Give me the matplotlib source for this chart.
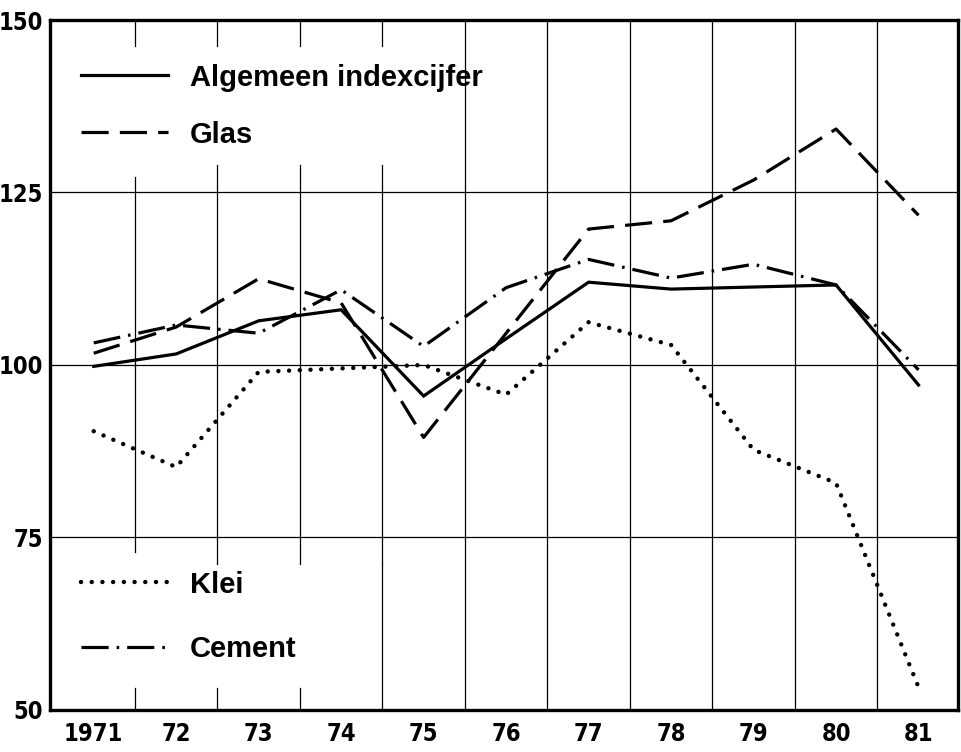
import matplotlib.pyplot as plt
from matplotlib import font_manager

# Datos
jaren = [1971, 1972, 1973, 1974, 1975, 1976, 1977, 1978, 1979, 1980, 1981]
jaar_labels = ['1971', '72', '73', '74', '75', '76', '77', '78', '79', '80', '81']
algemeen = [99.8, 101.6, 106.4, 108.0, 95.5, 103.8, 112.0, 111.0, 111.3, 111.6, 97.1]
glas = [101.7, 105.5, 112.5, 109.0, 89.5, 104.6, 119.7, 120.9, 126.8, 134.2, 121.7]
klei = [90.4, 85.2, 99.0, 99.5, 100.0, 95.7, 106.2, 102.9, 87.7, 82.9, 53.3]
cement = [103.2, 105.8, 104.6, 110.9, 102.7, 111.2, 115.3, 112.6, 114.6, 111.6, 99.3]
y_ticks = [50, 75, 100, 125, 150]

# Busco una fuente estrecha y negrita para los numeros de los ejes
fuente_ejes = None
for f in font_manager.fontManager.ttflist:
    estrecha = ('Narrow' in f.name or 'Condensed' in f.name or 'condensed' in str(f.stretch))
    negrita = f.weight in ('bold', 700) or 'Bold' in f.fname
    if estrecha and negrita and 'Oblique' not in f.fname and 'Italic' not in f.fname:
        fuente_ejes = font_manager.FontProperties(fname=f.fname, size=17)
        break
if fuente_ejes is None:
    fuente_ejes = font_manager.FontProperties(family='DejaVu Sans', weight='bold', size=13)

nombres = {f.name for f in font_manager.fontManager.ttflist}
fuente_texto = 'Liberation Sans' if 'Liberation Sans' in nombres else 'DejaVu Sans'

fig = plt.figure(figsize=(9.61, 7.52), dpi=100)
ax = fig.add_axes([0.052, 0.0559, 0.945, 0.9175])
ax.set_xlim(1970.47, 1981.48)
ax.set_ylim(50, 150)

# Rejilla horizontal
for y in [75, 100, 125]:
    ax.axhline(y, color='black', lw=0.9, zorder=1)

# Rejilla vertical (con huecos detras de las leyendas)
for i in range(4):
    x = jaren[i] + 0.5
    ax.plot([x, x], [146.3, 150], color='black', lw=0.9, zorder=1)
    ax.plot([x, x], [129 if i else 127.3, 71.2 if i else 72.9], color='black', lw=0.9, zorder=1)
    if i < 3:
        ax.plot([x, x], [50, 53.2], color='black', lw=0.9, zorder=1)
ax.plot([1974.5, 1974.5], [71.2, 50], color='black', lw=0.9, zorder=1)
for x in jaren[4:10]:
    ax.axvline(x + 0.5, color='black', lw=0.9, zorder=1)

# Series
l1, = ax.plot(jaren, algemeen, color='black', lw=2.3, solid_joinstyle='miter',
              label='Algemeen indexcijfer', zorder=3)
l2, = ax.plot(jaren, glas, color='black', lw=2.3, dashes=(8.5, 3.5),
              label='Glas', zorder=3)
l3, = ax.plot(jaren, klei, color='black', lw=3.2, dashes=(0.01, 2.4),
              dash_capstyle='round', label='Klei', zorder=3)
l4, = ax.plot(jaren, cement, color='black', lw=2.3, dashes=(8.5, 2.5, 0.8, 2.5),
              label='Cement', zorder=3)

# Leyendas
props = {'family': fuente_texto, 'weight': 'bold', 'size': 21}
leg1 = ax.legend(handles=[l1, l2], loc='upper left', bbox_to_anchor=(0.005, 0.975),
                 frameon=False, prop=props, handlelength=3.0, handletextpad=0.75,
                 labelspacing=1.0)
ax.add_artist(leg1)
ax.legend(handles=[l3, l4], loc='lower left', bbox_to_anchor=(0.005, 0.03),
          frameon=False, prop=props, handlelength=3.0, handletextpad=0.75,
          labelspacing=1.25)

# Ejes
ax.set_xticks(jaren)
ax.set_xticklabels(jaar_labels)
ax.set_yticks(y_ticks)
ax.set_yticklabels([str(v) for v in y_ticks])
ax.tick_params(axis='x', length=0, pad=9)
ax.tick_params(axis='y', length=0, pad=5)
for lab in ax.get_xticklabels() + ax.get_yticklabels():
    lab.set_fontproperties(fuente_ejes)
for s in ax.spines.values():
    s.set_linewidth(2.4)

plt.savefig('out.png', dpi=100)
